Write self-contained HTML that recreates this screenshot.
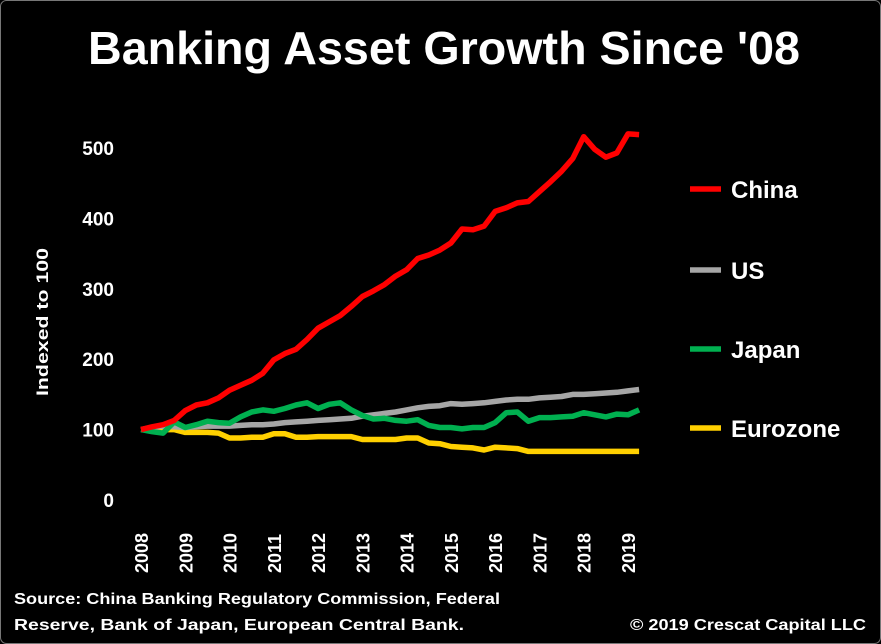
<!DOCTYPE html>
<html><head><meta charset="utf-8"><style>
html,body{margin:0;padding:0;background:#000;}
svg{display:block;font-family:"Liberation Sans",sans-serif;font-weight:bold;}
</style></head><body>
<svg id="chart" width="881" height="644" viewBox="0 0 881 644">
<rect x="0.5" y="0.5" width="880" height="643" rx="6" fill="#000" stroke="#777"/>
<text x="444" y="64" text-anchor="middle" fill="#fff" font-size="46" textLength="712" lengthAdjust="spacingAndGlyphs">Banking Asset Growth Since '08</text>
<text transform="translate(48,322) rotate(-90)" text-anchor="middle" fill="#fff" font-size="17" textLength="148" lengthAdjust="spacingAndGlyphs">Indexed to 100</text>
<g id="yticks"></g><g id="xticks"></g><g id="lines"></g><g id="legend"></g>
<text x="14" y="604" fill="#fff" font-size="16" textLength="486" lengthAdjust="spacingAndGlyphs">Source: China Banking Regulatory Commission, Federal</text>
<text x="14" y="630" fill="#fff" font-size="16" textLength="450" lengthAdjust="spacingAndGlyphs">Reserve, Bank of Japan, European Central Bank.</text>
<text x="866" y="630" text-anchor="end" fill="#fff" font-size="16" textLength="236" lengthAdjust="spacingAndGlyphs">© 2019 Crescat Capital LLC</text>
</svg>
<script>
const years=[2008,2009,2010,2011,2012,2013,2014,2015,2016,2017,2018,2019];
const yTicks=[0,100,200,300,400,500];
const seriesNames=["China","US","Japan","Eurozone"];
const seriesColors=["#ff0000","#a6a6a6","#00b050","#ffd000"];
const china=[100,104,107,113,127,135,138,145,156,163,170,180,199,208,214,228,244,253,262,275,289,297,306,318,327,343,348,355,365,385,384,389,410,415,422,424,438,452,467,485,516,498,487,493,520,519];
const us=[100,103,105,104,103,104,105,105,105,106,107,107,108,110,111,112,113,114,115,116,119,121,123,125,128,131,133,134,137,136,137,138,140,142,143,143,145,146,147,150,150,151,152,153,155,157];
const japan=[100,97,95,111,103,107,112,110,109,118,125,128,126,130,135,138,130,136,138,128,120,115,116,113,112,114,106,103,103,101,103,103,110,124,125,112,117,117,118,119,124,121,118,122,121,128];
const euro=[100,100,100,100,96,96,96,95,88,88,89,89,94,94,89,89,90,90,90,90,86,86,86,86,88,88,81,80,76,75,74,71,75,74,73,69,69,69,69,69,69,69,69,69,69,69];
const allSeries=[china,us,japan,euro];
const NS="http://www.w3.org/2000/svg";
const x0=141,x1=628,y0=500,y500=148;
function xs(t){return x0+(t-2008)*(x1-x0)/11;}
function ys(v){return y0-v*(y0-y500)/500;}
function mk(tag,attrs,parent){const e=document.createElementNS(NS,tag);for(const k in attrs)e.setAttribute(k,attrs[k]);parent.appendChild(e);return e;}
const yg=document.getElementById('yticks');
yTicks.forEach(v=>{const t=mk('text',{x:114,y:ys(v)+7,'text-anchor':'end',fill:'#fff','font-size':19},yg);


t.textContent=v;});
const xg=document.getElementById('xticks');
years.forEach(yr=>{const t=mk('text',{transform:`translate(${xs(yr)+7},${573}) rotate(-90)`,fill:'#fff','font-size':18},xg);


t.textContent=yr;});
const lg=document.getElementById('lines');
[3,1,2,0].forEach(i=>{const d=allSeries[i].map((v,j)=>(j?'L':'M')+xs(2008+j*0.25).toFixed(1)+' '+ys(v).toFixed(1)).join(' ');
const p=mk('path',{d:d,fill:'none',stroke:seriesColors[i],'stroke-width':5.5,'stroke-linejoin':'round'},lg);

});
const leg=document.getElementById('legend');
const legY=[189,270,349,428];
seriesNames.forEach((n,i)=>{const g=mk('g',{},leg);


mk('line',{x1:690,x2:721,y1:legY[i],y2:legY[i],stroke:seriesColors[i],'stroke-width':5.5},g);
const t=mk('text',{x:731,y:legY[i]+9,fill:'#fff','font-size':24},g);t.textContent=n;});
</script>
</body></html>
